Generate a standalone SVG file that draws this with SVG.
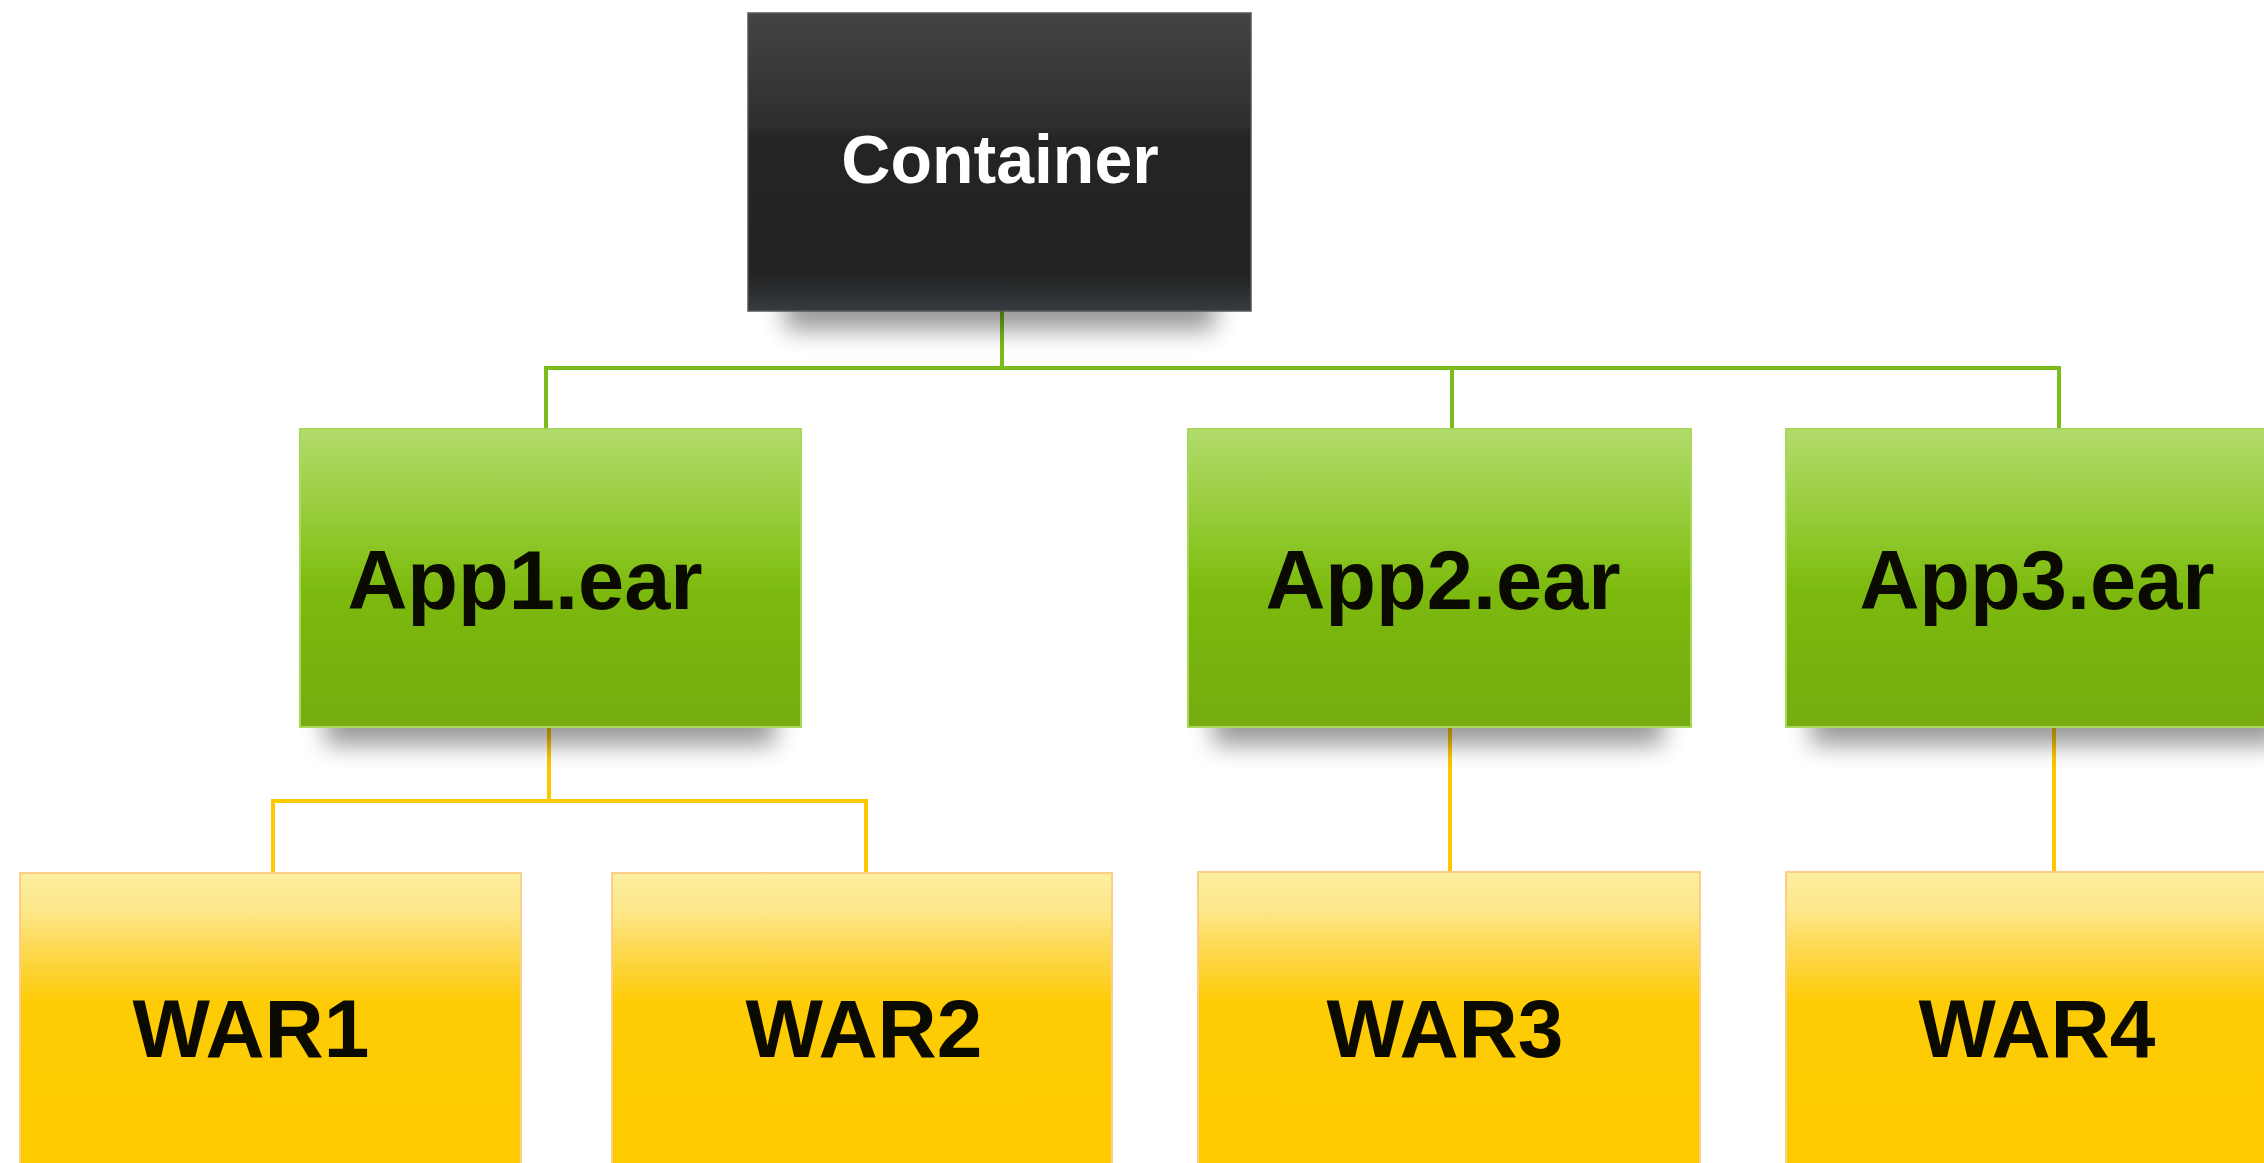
<svg xmlns="http://www.w3.org/2000/svg" width="2264" height="1163" viewBox="0 0 2264 1163">
  <defs>
    <linearGradient id="gDark" x1="0" y1="0" x2="0" y2="1">
      <stop offset="0" stop-color="#444444"/>
      <stop offset="0.38" stop-color="#2e2e2e"/>
      <stop offset="0.42" stop-color="#242424"/>
      <stop offset="0.88" stop-color="#232323"/>
      <stop offset="1" stop-color="#353c42"/>
    </linearGradient>
    <linearGradient id="gGreen" x1="0" y1="0" x2="0" y2="1">
      <stop offset="0" stop-color="#b2dc6c"/>
      <stop offset="0.45" stop-color="#86c21c"/>
      <stop offset="0.55" stop-color="#7cb90e"/>
      <stop offset="1" stop-color="#76ac10"/>
    </linearGradient>
    <linearGradient id="gYellow" x1="0" y1="0" x2="0" y2="1">
      <stop offset="0" stop-color="#fdeea0"/>
      <stop offset="0.12" stop-color="#fde78a"/>
      <stop offset="0.3" stop-color="#fdd43a"/>
      <stop offset="0.42" stop-color="#fecc05"/>
      <stop offset="1" stop-color="#fecb00"/>
    </linearGradient>
    <filter id="blur" x="-20%" y="-80%" width="140%" height="260%">
      <feGaussianBlur stdDeviation="12"/>
    </filter>
  </defs>
  <style>
    .shadow { fill: #000; opacity: 0.4; filter: url(#blur); }
    .dark { fill: url(#gDark); stroke: #555; stroke-width: 1.5; }
    .green { fill: url(#gGreen); stroke: #a6d85a; stroke-width: 2; }
    .yellow { fill: url(#gYellow); stroke: #f9cf8a; stroke-width: 2; }
    .lbl { font-family: "Liberation Sans", Arial, sans-serif; font-weight: bold; text-anchor: middle; }
    .wlbl { fill: #ffffff; font-size: 68px; }
    .blbl { fill: #0a0a00; font-size: 83px; }
    .ylbl { fill: #0a0a00; font-size: 82px; }
    .gline { fill: none; stroke: #7cbc1a; stroke-width: 4; }
    .yline { fill: none; stroke: #fcc800; stroke-width: 4; }
  </style>
  <rect width="2264" height="1163" fill="#ffffff"/>

  <g id="connectors">
    <path class="gline" d="M1002 311 V368 M546 429 V368 H2059 V429 M1452 368 V429"/>
    <path class="yline" d="M549 727 V801 M273 873 V801 H866 V873 M1450 727 V872 M2054 727 V872"/>
  </g>

  <g id="container">
    <rect class="shadow" x="785" y="285" width="430" height="45"/>
    <rect class="dark" x="748" y="13" width="503" height="298"/>
    <text class="lbl wlbl" x="1000" y="183">Container</text>
  </g>

  <g id="app1">
    <rect class="shadow" x="325" y="700" width="450" height="45"/>
    <rect class="green" x="300" y="429" width="501" height="298"/>
    <text class="lbl blbl" x="525" y="609">App1.ear</text>
  </g>

  <g id="app2">
    <rect class="shadow" x="1213" y="700" width="450" height="45"/>
    <rect class="green" x="1188" y="429" width="503" height="298"/>
    <text class="lbl blbl" x="1443" y="609">App2.ear</text>
  </g>

  <g id="app3">
    <rect class="shadow" x="1811" y="700" width="470" height="45"/>
    <rect class="green" x="1786" y="429" width="503" height="298"/>
    <text class="lbl blbl" x="2037" y="609">App3.ear</text>
  </g>

  <g id="war1">
    <rect class="yellow" x="20" y="873" width="501" height="310"/>
    <text class="lbl ylbl" x="251" y="1057">WAR1</text>
  </g>

  <g id="war2">
    <rect class="yellow" x="612" y="873" width="500" height="310"/>
    <text class="lbl ylbl" x="864" y="1057">WAR2</text>
  </g>

  <g id="war3">
    <rect class="yellow" x="1198" y="872" width="502" height="310"/>
    <text class="lbl ylbl" x="1445" y="1057">WAR3</text>
  </g>

  <g id="war4">
    <rect class="yellow" x="1786" y="872" width="503" height="310"/>
    <text class="lbl ylbl" x="2037" y="1057">WAR4</text>
  </g>
</svg>
